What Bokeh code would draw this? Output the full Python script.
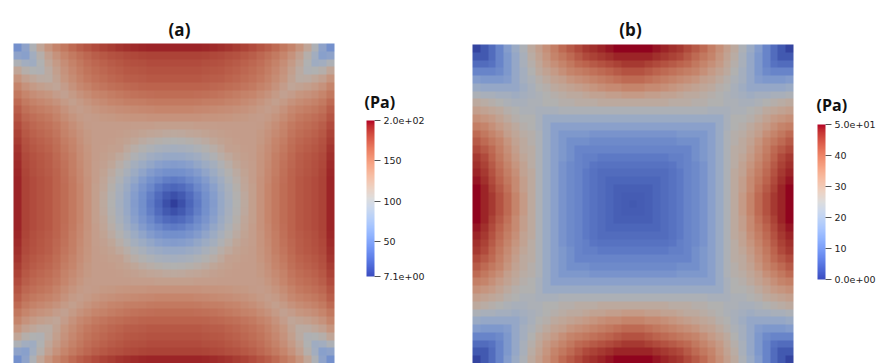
import numpy as np
from bokeh.plotting import figure
from bokeh.models import Range1d, LinearColorMapper, ColorBar, FixedTicker, Label
from bokeh.embed import file_html
from bokeh.resources import INLINE

# ---------------- data ----------------
# Upper-left quarter of each field (21 x 21 samples), rows from the top edge to
# the centre row, columns from the left edge to the centre column.
stress_a_quarter = [
    [58, 75, 100, 120, 135, 146, 154, 161, 167, 172, 176, 180, 183, 186, 188, 190, 191, 192, 192, 192, 192],
    [75, 72, 90, 108, 124, 136, 145, 152, 158, 163, 167, 170, 173, 175, 177, 178, 179, 180, 180, 180, 180],
    [100, 90, 88, 103, 118, 130, 140, 148, 154, 159, 163, 166, 169, 171, 173, 174, 175, 176, 176, 176, 176],
    [120, 108, 103, 102, 114, 126, 136, 144, 151, 156, 160, 163, 166, 168, 170, 171, 172, 173, 173, 173, 173],
    [135, 124, 118, 114, 113, 123, 133, 141, 148, 153, 157, 160, 163, 165, 167, 168, 169, 170, 170, 170, 170],
    [146, 136, 130, 126, 123, 120, 128, 136, 143, 148, 152, 155, 158, 160, 162, 163, 164, 165, 165, 165, 165],
    [154, 145, 140, 136, 133, 128, 124, 130, 136, 141, 145, 148, 151, 153, 155, 157, 158, 159, 160, 160, 160],
    [161, 152, 148, 144, 141, 136, 130, 126, 130, 135, 139, 142, 145, 147, 149, 150, 151, 152, 153, 153, 153],
    [167, 158, 154, 151, 148, 143, 136, 130, 127, 130, 133, 136, 138, 140, 141, 142, 143, 144, 145, 145, 145],
    [172, 163, 159, 156, 153, 148, 141, 135, 130, 128, 129, 131, 132, 133, 134, 135, 135, 136, 136, 136, 136],
    [176, 167, 163, 160, 157, 152, 145, 139, 133, 129, 128, 128, 128, 128, 128, 127, 127, 127, 126, 126, 126],
    [180, 170, 166, 163, 160, 155, 148, 142, 136, 131, 128, 128, 128, 127, 126, 124, 122, 120, 118, 116, 115],
    [183, 173, 169, 166, 163, 158, 151, 145, 138, 132, 128, 128, 127, 125, 123, 119, 114, 110, 107, 105, 104],
    [186, 175, 171, 168, 165, 160, 153, 147, 140, 133, 128, 127, 125, 124, 117, 110, 105, 100, 96, 94, 92],
    [188, 177, 173, 170, 167, 162, 155, 149, 141, 134, 128, 126, 123, 117, 110, 102, 96, 89, 85, 82, 81],
    [190, 178, 174, 171, 168, 163, 157, 150, 142, 135, 127, 124, 119, 110, 102, 93, 86, 79, 73, 69, 68],
    [191, 179, 175, 172, 169, 164, 158, 151, 143, 135, 127, 122, 114, 105, 96, 86, 77, 68, 62, 58, 57],
    [192, 180, 176, 173, 170, 165, 159, 152, 144, 136, 127, 120, 110, 100, 89, 79, 68, 59, 52, 45, 43],
    [192, 180, 176, 173, 170, 165, 160, 153, 145, 136, 126, 118, 107, 96, 85, 73, 62, 52, 41, 33, 30],
    [192, 180, 176, 173, 170, 165, 160, 153, 145, 136, 126, 116, 105, 94, 82, 69, 58, 45, 33, 23, 18],
    [192, 180, 176, 173, 170, 165, 160, 153, 145, 136, 126, 115, 104, 92, 81, 68, 57, 43, 30, 18, 8],
]
stress_b_quarter = [
    [1, 4, 7, 11, 16, 20, 24, 28, 31, 34, 37, 40, 42, 44, 46, 47, 48, 49, 50, 50, 50],
    [4, 4, 7, 11, 15, 19, 23, 27, 30, 33, 36, 38, 40, 42, 44, 45, 46, 47, 48, 48, 48],
    [7, 7, 8, 11, 15, 19, 23, 26, 29, 32, 34, 36, 38, 40, 41, 42, 43, 44, 45, 46, 46],
    [11, 11, 11, 12, 15, 19, 22, 25, 28, 30, 32, 34, 36, 37, 38, 39, 40, 41, 42, 43, 43],
    [16, 15, 15, 15, 16, 19, 22, 24, 26, 28, 30, 31, 33, 34, 35, 36, 37, 38, 39, 40, 40],
    [20, 19, 19, 19, 19, 19, 21, 23, 25, 26, 28, 29, 30, 31, 32, 33, 34, 35, 35, 36, 36],
    [24, 23, 23, 22, 22, 21, 22, 23, 24, 25, 26, 27, 28, 28, 29, 30, 30, 31, 31, 32, 32],
    [28, 27, 26, 25, 24, 23, 23, 24, 24, 25, 25, 26, 26, 27, 27, 27, 28, 28, 28, 28, 28],
    [31, 30, 29, 28, 26, 25, 24, 24, 23, 23, 23, 24, 24, 24, 24, 24, 24, 24, 24, 24, 24],
    [34, 33, 32, 30, 28, 26, 25, 25, 23, 20, 20, 20, 20, 20, 20, 20, 20, 20, 20, 20, 20],
    [37, 36, 34, 32, 30, 28, 26, 25, 23, 20, 17, 17, 17, 17, 17, 17, 17, 17, 17, 17, 17],
    [40, 38, 36, 34, 31, 29, 27, 26, 24, 20, 17, 15, 15, 15, 15, 14, 14, 14, 14, 14, 14],
    [42, 40, 38, 36, 33, 30, 28, 26, 24, 20, 17, 15, 13, 13, 13, 12, 12, 12, 12, 12, 12],
    [44, 42, 40, 37, 34, 31, 28, 27, 24, 20, 17, 15, 13, 11, 11, 11, 11, 11, 11, 11, 11],
    [46, 44, 41, 38, 35, 32, 29, 27, 24, 20, 17, 15, 13, 11, 10, 10, 9, 9, 9, 9, 9],
    [47, 45, 42, 39, 36, 33, 30, 27, 24, 20, 17, 14, 12, 11, 10, 8.5, 8, 8, 8, 8, 8],
    [48, 46, 43, 40, 37, 34, 30, 28, 24, 20, 17, 14, 12, 11, 9, 8, 7, 7, 7, 7, 7],
    [49, 47, 44, 41, 38, 35, 31, 28, 24, 20, 17, 14, 12, 11, 9, 8, 7, 6, 6, 6, 6],
    [50, 48, 45, 42, 39, 35, 31, 28, 24, 20, 17, 14, 12, 11, 9, 8, 7, 6, 5, 5, 5],
    [50, 48, 46, 43, 40, 36, 32, 28, 24, 20, 17, 14, 12, 11, 9, 8, 7, 6, 5, 4.5, 4.5],
    [50, 48, 46, 43, 40, 36, 32, 28, 24, 20, 17, 14, 12, 11, 9, 8, 7, 6, 5, 4.5, 4],
]
range_a = (7.1, 200.0)
range_b = (0.0, 50.0)
ticks_a = [7.1, 50, 100, 150, 200]
ticks_b = [0, 10, 20, 30, 40, 50]
labels_a = {7.1: "7.1e+00", 200: "2.0e+02"}
labels_b = {0: "0.0e+00", 50: "5.0e+01"}
titles = ["(a)", "(b)"]
unit_title = "(Pa)"

# ---------------- colour map (ParaView cool to warm) ----------------
cw = np.array([
    [59, 76, 192], [68, 90, 204], [77, 104, 215], [87, 117, 225], [98, 130, 234],
    [108, 142, 241], [119, 154, 247], [130, 165, 251], [141, 176, 254], [152, 185, 255],
    [163, 194, 255], [174, 201, 253], [184, 208, 249], [194, 213, 244], [204, 217, 238],
    [213, 219, 230], [221, 221, 221], [229, 216, 209], [236, 211, 197], [241, 204, 185],
    [245, 196, 173], [247, 187, 160], [247, 177, 148], [247, 166, 135], [244, 154, 123],
    [241, 141, 111], [236, 127, 99], [229, 112, 88], [222, 96, 77], [213, 80, 66],
    [203, 62, 56], [192, 40, 47], [180, 4, 38]], float)
s_src = np.linspace(0, 1, len(cw))
s_dst = np.linspace(0, 1, 256)
rgb = np.stack([np.interp(s_dst, s_src, cw[:, k]) for k in range(3)], axis=1)


def to_hex(arr):
    return ["#%02x%02x%02x" % tuple(int(round(v)) for v in c) for c in arr]


bright = to_hex(rgb)
shaded = to_hex(np.clip(rgb * 0.8, 0, 255))


def full_field(quarter):
    q = np.array(quarter, float)
    top = np.hstack([q, q[:, -2::-1]])
    return np.vstack([top, top[-2::-1, :]])


# ---------------- figure ----------------
W, H = 881, 363
p = figure(width=W, height=H, x_range=Range1d(0, W), y_range=Range1d(0, H),
           min_border=0, toolbar_location=None, output_backend="svg",
           x_axis_location=None, y_axis_location=None, outline_line_color=None)
p.grid.visible = False
p.background_fill_color = "white"

panels = [
    dict(q=stress_a_quarter, rng=range_a, ticks=ticks_a, labels=labels_a,
         x=13, y=0, dw=321, dh=320, cb=(366, 87), cbh=156, tx=179, ux=364, uy=262),
    dict(q=stress_b_quarter, rng=range_b, ticks=ticks_b, labels=labels_b,
         x=472, y=0, dw=321, dh=319, cb=(817, 84), cbh=155, tx=630, ux=816, uy=259),
]

for i, d in enumerate(panels):
    field = full_field(d["q"])
    m_shaded = LinearColorMapper(palette=shaded, low=d["rng"][0], high=d["rng"][1])
    p.image(image=[field], x=d["x"], y=d["y"], dw=d["dw"], dh=d["dh"], color_mapper=m_shaded)

    m_bright = LinearColorMapper(palette=bright, low=d["rng"][0], high=d["rng"][1])
    cb = ColorBar(color_mapper=m_bright, ticker=FixedTicker(ticks=d["ticks"]),
                  major_label_overrides=d["labels"], width=8, height=d["cbh"],
                  location=d["cb"],
                  major_label_text_font="DejaVu Sans", major_label_text_font_size="9.5px",
                  major_label_text_color="#222222", label_standoff=3,
                  major_tick_out=6, major_tick_in=0, major_tick_line_color="#555555",
                  minor_tick_line_color=None, bar_line_color=None,
                  padding=0, margin=0, background_fill_alpha=0, border_line_color=None)
    p.add_layout(cb, "center")

    p.add_layout(Label(x=d["ux"], y=d["uy"], text=unit_title, text_align="left",
                       text_baseline="alphabetic", text_font="Open Sans",
                       text_font_style="bold", text_font_size="16px", text_color="#111111"))
    p.add_layout(Label(x=d["tx"], y=334, text=titles[i], text_align="center",
                       text_baseline="alphabetic", text_font="Open Sans",
                       text_font_style="bold", text_font_size="17px", text_color="#111111"))

open("out.html", "w").write(file_html(p, INLINE))
